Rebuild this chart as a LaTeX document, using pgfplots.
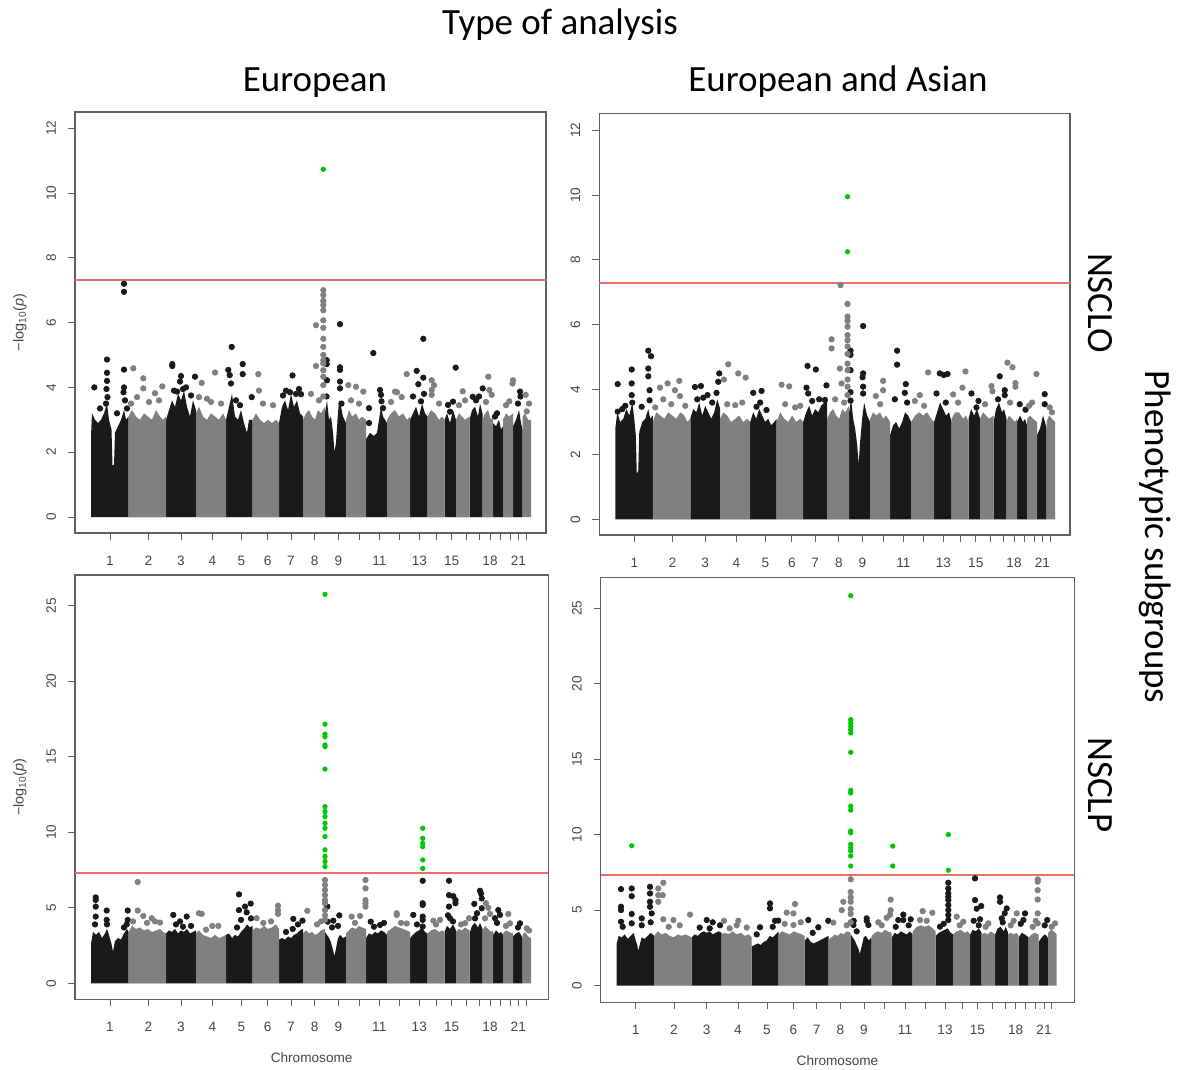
\documentclass[border=0pt]{standalone}
\usepackage{fontspec}
\setmainfont{Liberation Sans}
\newfontfamily\titlefont{Carlito}
\usepackage{pgfplots}
\pgfplotsset{compat=1.18}

\definecolor{blk}{RGB}{26,26,26}
\definecolor{gry}{RGB}{128,128,128}
\definecolor{grn}{RGB}{0,200,0}
\definecolor{redl}{RGB}{232,112,112}
\definecolor{axc}{RGB}{95,95,95}
\definecolor{labc}{RGB}{70,70,70}

\newcommand\tickfont{\fontsize{6.8}{8}\selectfont}
\newcommand\ttl{\titlefont\fontsize{18.5}{20}\selectfont}

\pgfplotsset{
  manh/.style={
    scale only axis,
    xmin=-16, xmax=455,
    axis line style={draw=axc, line width=0.55pt},
    tick style={draw=axc, line width=0.5pt},
    tick align=outside, major tick length=3.5pt,
    tick pos=left,
    xtick={19,57.3,90,121.3,150.3,176.7,200,223.7,247.3,268,288.3,308.3,328.3,345.7,360.7,375.7,388.3,399,409,419,427.3,435},
    xticklabels={1,2,3,4,5,6,7,8,9,,11,,13,,15,,,18,,,21,},
    ticklabel style={font=\tickfont, text=labc},
    /pgf/number format/assume math mode=true,
    xticklabel style={yshift=-4.5pt},
    yticklabel style={rotate=90, anchor=south, yshift=2.5pt},
    every axis y label/.style={at={([xshift=-27.5pt]axis description cs:0,0.5)}, rotate=90, anchor=center, font=\fontsize{7.2}{8}\selectfont, text=labc},
    every axis x label/.style={at={([yshift=-29pt]axis description cs:0.5,0)}, anchor=center, font=\tickfont, text=labc},
  },
  massB/.style={fill=blk, draw=none},
  massG/.style={fill=gry, draw=none},
  ptB/.style={only marks, mark=*, mark size=1.35pt, color=blk},
  ptG/.style={only marks, mark=*, mark size=1.35pt, color=gry},
  ptN/.style={only marks, mark=*, mark size=1.1pt, color=grn},
  thr/.style={redl, line width=1pt},
}

\begin{document}
\begin{tikzpicture}
\path[use as bounding box] (0,0) rectangle (591.5pt,-535pt);

% ---------- NSCLO, European ----------
\begin{axis}[manh, at={(37.5pt,-266.5pt)}, anchor=south west,
  width=235.5pt, height=210.5pt,
  ymin=-0.494, ymax=12.5, ytick={0,2,...,12},
  ylabel={−log\textsubscript{10}(\textit{p})}]
\addplot[massB] coordinates {
(0,0)(0,2.5)(1,3.2)(4,3.0)(7,2.9)(10,3.0)(13,3.2)(16,3.5)(18,3.0)(20.5,2.7)(21.5,1.6)(23,1.6)(24,2.6)(27,2.8)(30,3.0)(33,3.3)(35,3.0)(37.5,3.1)(37.5,0)
(75,0)(75,3.0)(78,3.3)(81,3.6)(84,3.4)(87,3.8)(90,3.6)(93,3.9)(96,3.4)(99,3.1)(102,3.6)(105,3.3)(105,0)
(135,0)(135,3.0)(138,3.4)(141,3.8)(144,3.1)(147,3.0)(150,3.3)(153,2.9)(156,2.6)(158,3.0)(161.5,3.0)(161.5,0)
(188,0)(188,2.9)(191,3.4)(194,3.6)(197,3.3)(200,3.8)(203,3.4)(206,3.6)(209,3.2)(212,3.1)(212,0)
(234,0)(234,3.2)(236,3.6)(238,3.0)(240,3.1)(242,2.6)(243.5,2.0)(245,2.3)(246.5,3.0)(248,3.6)(250,3.4)(252,3.1)(255,2.9)(255,0)
(275,0)(275,2.4)(279,2.6)(283,2.5)(286,2.6)(288,3.0)(290,3.4)(292,3.1)(294,3.0)(296,2.9)(296,0)
(319,0)(319,3.0)(322,3.2)(325,3.4)(328,3.1)(331,3.5)(334,3.2)(336.5,3.1)(336.5,0)
(353.5,0)(353.5,3.0)(356,3.2)(359,2.9)(362,3.3)(365,3.0)(365,0)
(378.5,0)(378.5,3.0)(381,3.3)(384,3.4)(387,3.1)(389,3.5)(391.5,3.2)(391.5,0)
(402,0)(402,2.9)(405,2.8)(408,3.0)(410,2.7)(412,2.8)(412,0)
(422,0)(422,2.8)(425,3.0)(428,3.3)(430,2.9)(431.5,2.7)(431.5,0)};
\addplot[massG] coordinates {
(37.5,0)(37.5,3.1)(41,3.3)(45,3.1)(49,3.0)(53,3.2)(57,3.1)(61,3.0)(65,3.3)(69,3.1)(72,3.0)(75,3.1)(75,0)
(105,0)(105,3.2)(108,3.4)(112,3.1)(116,3.0)(120,3.2)(124,3.1)(128,3.0)(132,3.2)(135,3.0)(135,0)
(161.5,0)(161.5,3.0)(165,3.2)(169,3.0)(173,2.9)(177,3.0)(181,2.9)(185,3.0)(188,2.9)(188,0)
(212,0)(212,3.0)(215,3.2)(218,3.3)(221,3.1)(224,3.0)(227,3.3)(230,3.2)(234,3.4)(234,0)
(255,0)(255,3.0)(258,3.3)(261,3.1)(265,3.2)(268,3.0)(271,3.1)(275,3.0)(275,0)
(296,0)(296,3.0)(300,3.2)(304,3.3)(308,3.1)(312,3.2)(316,3.0)(319,3.1)(319,0)
(336.5,0)(336.5,3.1)(340,3.3)(344,3.2)(348,3.0)(351,3.1)(353.5,3.0)(353.5,0)
(365,0)(365,3.0)(368,3.2)(371,3.1)(374,3.0)(378.5,3.1)(378.5,0)
(391.5,0)(391.5,3.0)(394,3.2)(397,3.3)(400,3.0)(402,3.1)(402,0)
(412,0)(412,3.0)(415,3.2)(418,3.1)(422,3.2)(422,0)
(431.5,0)(431.5,3.1)(434,3.2)(437,3.0)(440,3.0)(440,0)};
\addplot[ptB] coordinates {
(3.3,4.0)(16,4.86)(16,4.45)(16,4.2)(15.5,3.95)(16.5,3.7)(15,3.5)(33,7.2)(33,6.95)(33,4.55)(33,4.0)(32.5,3.85)(34,3.6)(36,3.35)(9,3.35)(26,3.2)
(81.3,4.72)(81.3,4.66)(90,4.35)(89,4.18)(86,3.87)(104,4.33)(95,4.0)(92,3.95)(83,3.9)(100,3.75)
(140.7,5.25)(137.3,4.54)(138.7,4.38)(140,4.12)(151.7,4.72)(151.7,4.41)(160.7,3.7)(145,3.6)(149,3.45)
(201.5,4.37)(195,3.9)(199,3.85)(205,3.8)(210,3.79)(208,3.95)(192,3.75)
(235.7,4.84)(235.7,4.72)(236,4.22)(235.5,3.72)(249,5.95)(249,4.62)(249,4.54)(249,4.18)(249,3.97)(250.5,3.5)(244,1.24)
(282.3,5.06)(289,3.92)(290,3.77)(290.5,3.57)(292,3.36)(278,3.36)(278,2.9)
(332.3,5.5)(325.7,4.51)(332.3,4.3)(327.3,4.1)(322,3.72)(330,3.57)(333,3.8)
(364.7,4.61)(362,3.56)(357,3.46)(359,3.25)
(381.7,3.71)(385,3.6)(388,3.72)(391.7,3.97)
(406,3.2)(404,3.1)
(429,3.87)(429.5,3.72)(427,3.5)};
\addplot[ptG] coordinates {
(42.3,4.59)(52.3,4.28)(52.3,3.97)(64,3.82)(71.3,4.03)(46,3.7)(58,3.55)(68,3.6)(40,3.5)
(110.7,4.14)(124,4.46)(116,3.65)(120,3.55)(130,3.5)(108,3.7)
(167.3,4.41)(168,3.9)(172,3.5)(182,3.45)
(232.3,7.0)(232.3,6.85)(232.3,6.67)(232.3,6.54)(232.3,6.38)(232.3,6.07)(232.3,5.84)(232.3,5.5)(232.3,5.25)(232.3,5.0)(232.3,4.84)(232.3,4.74)(232.3,4.53)(232.3,4.33)(232.3,4.07)(232.3,3.72)(225,5.92)(225,4.66)(220,3.8)(228,3.6)
(257.3,4.07)(265,4.02)(272.3,3.87)(260,3.6)(268,3.5)
(304,3.87)(306,3.85)(315.7,4.41)(310.7,3.7)(300,3.55)
(340.7,4.22)(343,4.07)(340.7,3.92)(340.7,3.77)(348,3.5)
(371.7,3.88)(374,3.6)(368,3.45)
(397.3,4.33)(398.3,3.92)(400.7,3.77)(395,3.55)
(422,4.22)(421.5,4.12)(418.3,3.57)(415,3.45)
(434.7,3.77)(435.7,3.26)(438,3.5)};
\addplot[thr] coordinates {(-16,7.3)(460,7.3)};
\addplot[ptN] coordinates {(232.3,10.73)};
\end{axis}

% ---------- NSCLO, European and Asian ----------
\begin{axis}[manh, at={(299.65pt,-267.5pt)}, anchor=south west,
  width=235.35pt, height=210.85pt,
  ymin=-0.484, ymax=12.52, ytick={0,2,...,12}]
\addplot[massB] coordinates {
(0,0)(0,2.8)(2,3.3)(5,3.0)(8,3.1)(11,3.4)(14,3.2)(17,3.6)(19,3.1)(20.5,2.6)(21.5,1.4)(23,1.5)(24,2.7)(27,3.0)(30,3.1)(33,3.4)(35,3.1)(37.5,3.2)(37.5,0)
(75,0)(75,3.1)(78,3.4)(81,3.3)(84,3.6)(87,3.2)(90,3.5)(93,3.3)(96,3.1)(99,3.3)(102,3.7)(105,3.4)(105,0)
(135,0)(135,3.0)(138,3.3)(141,3.1)(144,3.4)(147,3.2)(150,3.0)(153,3.1)(156,2.9)(159,3.0)(161.5,3.1)(161.5,0)
(188,0)(188,3.0)(191,3.3)(194,3.5)(197,3.2)(200,3.4)(203,3.3)(206,3.5)(209,3.6)(212,3.8)(212,0)
(234,0)(234,3.3)(236,3.7)(238,3.1)(240,2.8)(242,2.3)(243.5,1.7)(245,2.4)(247,3.1)(249,3.6)(252,3.2)(255,3.0)(255,0)
(275,0)(275,2.6)(278,2.9)(281,3.0)(284,2.8)(287,3.0)(290,3.3)(293,3.2)(296,3.0)(296,0)
(319,0)(319,3.0)(322,3.3)(325,3.6)(328,3.4)(331,3.2)(334,3.3)(336.5,3.0)(336.5,0)
(353.5,0)(353.5,3.1)(356,3.4)(359,3.2)(362,3.4)(365,3.1)(365,0)
(378.5,0)(378.5,3.0)(381,3.4)(384,3.6)(387,3.3)(389,3.4)(391.5,3.1)(391.5,0)
(402,0)(402,3.0)(405,3.2)(408,3.0)(410,3.1)(412,2.9)(412,0)
(422,0)(422,2.6)(425,2.8)(428,3.2)(430,3.0)(431.5,2.8)(431.5,0)};
\addplot[massG] coordinates {
(37.5,0)(37.5,3.0)(41,3.3)(45,3.2)(49,3.1)(53,3.3)(57,3.2)(61,3.1)(65,3.3)(69,3.2)(72,3.0)(75,3.1)(75,0)
(105,0)(105,3.1)(108,3.3)(112,3.2)(116,3.0)(120,3.1)(124,3.2)(128,3.0)(132,3.1)(135,3.0)(135,0)
(161.5,0)(161.5,3.0)(165,3.3)(169,3.1)(173,3.0)(177,3.2)(181,3.0)(185,3.1)(188,3.0)(188,0)
(212,0)(212,3.1)(215,3.3)(218,3.4)(221,3.2)(224,3.1)(227,3.4)(230,3.3)(234,3.5)(234,0)
(255,0)(255,3.1)(258,3.3)(261,3.2)(265,3.3)(268,3.1)(271,3.2)(275,3.0)(275,0)
(296,0)(296,3.0)(300,3.2)(304,3.3)(308,3.2)(312,3.3)(316,3.1)(319,3.0)(319,0)
(336.5,0)(336.5,3.1)(340,3.3)(344,3.3)(348,3.1)(351,3.2)(353.5,3.0)(353.5,0)
(365,0)(365,3.1)(368,3.3)(371,3.2)(374,3.1)(378.5,3.2)(378.5,0)
(391.5,0)(391.5,3.0)(394,3.2)(397,3.1)(400,3.0)(402,3.1)(402,0)
(412,0)(412,3.1)(415,3.2)(418,3.1)(422,3.0)(422,0)
(431.5,0)(431.5,3.0)(434,3.2)(437,3.1)(440,3.0)(440,0)};
\addplot[ptB] coordinates {
(2.4,4.17)(2.4,3.32)(16.4,4.62)(16.4,4.19)(16.4,3.83)(17,3.6)(26.4,3.47)(33,5.2)(35.7,5.03)(33,4.65)(33,4.41)(34.3,3.98)(34.3,3.67)(10,3.5)(7,3.4)
(79.7,4.08)(85.7,4.11)(92.3,3.83)(103,4.24)(104,4.5)(101.3,3.9)(82,3.7)(88,3.75)(97,3.6)
(146.4,3.96)(138,3.9)(141.3,3.47)(151.3,3.37)(145,3.6)
(192.4,4.73)(200.7,4.62)(191.3,4.06)(193,3.88)(211.3,4.13)(209.7,3.68)(204,3.7)(197,3.65)
(235.4,5.2)(235.4,5.07)(235.4,4.6)(235.4,3.92)(235.4,3.66)(248,5.96)(248,4.5)(247.4,4.38)(248,4.09)(248,3.88)
(282,5.2)(282,4.77)(290.7,4.17)(289.7,3.9)(279.7,3.7)(292,3.6)
(324.7,4.5)(328.7,4.45)(332.4,4.48)(321.4,3.88)(330.7,3.6)
(356.4,3.88)(363.4,3.65)(361.4,3.45)
(384.7,4.41)(389.7,3.98)(389.7,3.83)(383,3.7)
(410.5,3.38)(404.7,3.55)
(429.7,3.86)(429.7,3.55)};
\addplot[ptG] coordinates {
(64,4.27)(52.3,4.19)(44.7,4.06)(59.7,3.98)(64.7,3.8)(48,3.7)(56,3.55)(40,3.45)(70,3.5)
(113,4.78)(123,4.5)(130.4,4.37)(108.7,4.31)(112,3.55)(120,3.52)(127,3.6)
(166.4,4.15)(174,4.1)(170,3.55)(180,3.45)(185,3.5)
(216.4,5.55)(216.4,5.27)(225.4,7.22)(224.7,4.65)(226.4,4.19)
(232.4,6.64)(232.4,6.25)(232.4,6.12)(232.4,5.94)(232.4,5.68)(232.4,5.52)(232.4,5.33)(232.4,5.1)(232.4,4.8)(232.4,4.6)(232.4,4.31)(232.4,4.09)(232.4,3.83)(220,3.7)(229,3.6)
(268,4.27)(268,3.98)(260.7,3.8)(265,3.55)
(313,4.53)(304.7,3.83)(299.7,3.65)(309,3.5)
(350.4,4.56)(347.4,4.06)(338,3.85)(343,3.6)
(376.4,4.11)(377.4,3.95)(370,3.55)
(392.4,4.83)(397.4,4.69)(400.4,4.2)(400.4,4.09)(395,3.6)
(421.4,4.48)(417,3.6)(414,3.5)
(434.7,3.45)(437,3.3)};
\addplot[thr] coordinates {(-16,7.3)(460,7.3)};
\addplot[ptN] coordinates {(232.4,9.95)(232.4,8.25)};
\end{axis}

% ---------- NSCLP, European ----------
\begin{axis}[manh, at={(37.5pt,-499.65pt)}, anchor=south west,
  width=236.65pt, height=212.15pt, xmax=457.3,
  ymin=-1.06, ymax=27.04, ytick={0,5,...,25},
  xlabel={Chromosome}, ylabel={−log\textsubscript{10}(\textit{p})}]
\addplot[massB] coordinates {
(0,0)(0,2.6)(2,3.4)(5,3.2)(8,3.4)(11,3.0)(14,3.3)(16,3.6)(18,3.2)(20.5,2.6)(22,2.1)(24,2.8)(27,3.0)(30,2.9)(33,3.3)(36,3.6)(37.5,3.4)(37.5,0)
(75,0)(75,3.3)(78,3.5)(81,3.4)(84,3.6)(87,3.3)(90,3.5)(93,3.4)(96,3.6)(99,3.3)(102,3.4)(105,3.5)(105,0)
(135,0)(135,3.2)(138,3.3)(141,3.0)(144,3.2)(147,3.1)(150,3.4)(153,3.6)(156,3.9)(159,3.7)(161.5,3.8)(161.5,0)
(188,0)(188,2.9)(191,3.0)(194,2.9)(197,3.1)(200,3.0)(203,3.2)(206,3.3)(209,3.5)(212,3.6)(212,0)
(234,0)(234,3.4)(236,3.2)(238,3.0)(240,2.7)(242,2.2)(243.5,1.8)(245,2.3)(247,3.0)(249,3.2)(252,3.0)(255,3.1)(255,0)
(275,0)(275,3.0)(278,3.3)(281,3.2)(284,3.4)(287,3.3)(290,3.5)(293,3.4)(296,3.2)(296,0)
(319,0)(319,3.0)(322,3.2)(325,3.4)(328,3.5)(331,3.7)(334,3.4)(336.5,3.3)(336.5,0)
(353.5,0)(353.5,3.4)(356,3.8)(359,3.6)(362,3.9)(365,3.5)(365,0)
(378.5,0)(378.5,3.3)(381,3.8)(384,4.0)(387,3.7)(389,4.0)(391.5,3.6)(391.5,0)
(402,0)(402,3.2)(405,3.5)(408,3.3)(410,3.4)(412,3.2)(412,0)
(422,0)(422,3.1)(425,3.3)(428,3.4)(430,3.2)(431.5,3.0)(431.5,0)};
\addplot[massG] coordinates {
(37.5,0)(37.5,3.4)(41,3.8)(45,3.6)(49,3.7)(53,3.5)(57,3.6)(61,3.4)(65,3.5)(69,3.6)(72,3.4)(75,3.3)(75,0)
(105,0)(105,3.3)(108,3.5)(112,3.2)(116,3.1)(120,3.0)(124,3.2)(128,3.0)(132,3.1)(135,3.2)(135,0)
(161.5,0)(161.5,3.5)(165,3.7)(169,3.6)(173,3.8)(177,3.6)(181,3.7)(185,3.9)(188,3.6)(188,0)
(212,0)(212,3.3)(215,3.5)(218,3.3)(221,3.4)(224,3.2)(227,3.3)(230,3.5)(234,3.6)(234,0)
(255,0)(255,3.3)(258,3.5)(261,3.7)(265,3.6)(268,3.8)(271,3.7)(275,3.6)(275,0)
(296,0)(296,3.4)(300,3.6)(304,3.8)(308,3.7)(312,3.6)(316,3.5)(319,3.4)(319,0)
(336.5,0)(336.5,3.3)(340,3.5)(344,3.6)(348,3.4)(351,3.5)(353.5,3.4)(353.5,0)
(365,0)(365,3.4)(368,3.6)(371,3.5)(374,3.7)(378.5,3.5)(378.5,0)
(391.5,0)(391.5,3.5)(394,3.8)(397,3.6)(400,3.4)(402,3.5)(402,0)
(412,0)(412,3.3)(415,3.5)(418,3.4)(422,3.3)(422,0)
(431.5,0)(431.5,3.2)(434,3.4)(437,3.1)(440,3.0)(440,0)};
\addplot[ptB] coordinates {
(4.7,5.69)(4.7,5.52)(4.7,5.08)(4.7,4.42)(4,3.9)(15.7,4.82)(15.7,4.2)(16,3.9)(36.7,4.82)(36.7,4.2)(35.7,3.9)(33,3.7)
(82.3,4.53)(95.7,4.42)(89,4.1)(85,3.9)(100,3.8)(92,3.75)
(148,5.89)(148,4.85)(154,5.08)(159.7,5.28)(155.7,4.7)(160,4.3)(150,4.2)(146,3.7)
(202.3,4.27)(201.7,3.6)(211.5,4.15)(207,3.9)(195,3.4)
(236.3,5.08)(236.7,4.08)(242.3,4.15)(248.3,4.5)(247,3.8)(241,3.7)
(279.7,4.08)(289,3.86)(293,4.0)(283,3.75)
(322.3,4.53)(331.7,6.79)(331.7,5.3)(331.7,5.19)(331.7,4.42)(331.7,4.2)(331.7,3.76)(326,3.9)
(358,6.79)(358,5.84)(362.3,5.77)(364.5,5.51)(364.5,5.3)(358,5.08)(359,4.31)(362,4.1)(357,4.5)
(389,6.13)(390,5.95)(390.7,5.62)(383.3,5.26)(390.7,4.97)(386,4.64)(384,4.3)
(407.3,4.85)(409,4.53)(404,4.31)(406,4.0)
(429,3.97)(427,3.7)};
\addplot[ptG] coordinates {
(46.7,6.71)(46.7,4.82)(52.3,4.46)(60.7,4.31)(69,4.02)(42,4.1)(56,4.0)(64,4.1)
(108,4.64)(110.7,4.6)(121.3,3.8)(127.3,3.8)(115,3.55)
(187,5.15)(187,4.85)(187,4.6)(165.7,4.31)(172.3,4.0)(180,4.1)
(216.3,4.8)(234,6.84)(234,6.51)(234,6.18)(234,5.84)(234,5.51)(234,5.3)(234,4.85)(234,4.5)(234,4.2)(226,3.9)(230,4.1)
(274.5,6.84)(274.5,6.29)(274.5,5.51)(274.5,5.3)(274.5,5.08)(260.7,4.42)(269,4.46)(264,4.0)
(305.7,4.64)(305.7,4.53)(315.7,3.96)(310,4.0)
(342.3,4.15)(349,4.2)(345,3.9)
(378,4.31)(374,3.98)(370,3.9)
(395,5.3)(397.3,5.0)(399,4.6)(394,4.3)
(417.3,4.59)(419,3.97)(415,3.8)
(435.7,3.64)(438,3.5)};
\addplot[thr] coordinates {(-16,7.3)(460,7.3)};
\addplot[ptN] coordinates {
(234,25.76)(234,17.16)(234,16.5)(234,16.33)(234,15.78)(234,15.67)(234,14.19)(234,11.7)(234,11.37)(234,11.04)(234,10.6)(234,10.27)(234,9.72)(234,8.84)(234,8.4)(234,8.07)(234,7.73)
(331.7,10.27)(331.7,9.6)(331.7,9.27)(331.7,9.05)(331.7,8.17)(331.7,7.61)};
\end{axis}

% ---------- NSCLP, European and Asian ----------
\begin{axis}[manh, at={(300.35pt,-501.15pt)}, anchor=south west,
  width=236.8pt, height=212.5pt, xmax=457.6,
  ymin=-1.1, ymax=27.05, ytick={0,5,...,25},
  xlabel={Chromosome}]
\addplot[massB] coordinates {
(0,0)(0,2.8)(2,3.3)(5,3.2)(8,3.4)(11,3.1)(14,3.3)(17,3.5)(19,3.0)(20.5,2.7)(21.6,2.3)(23,2.7)(25,3.2)(28,3.1)(31,3.3)(34,3.5)(37.5,3.3)(37.5,0)
(75,0)(75,3.2)(78,3.4)(81,3.3)(84,3.5)(87,3.6)(90,3.5)(93,3.6)(96,3.4)(99,3.5)(102,3.6)(105,3.5)(105,0)
(135,0)(135,2.6)(138,2.7)(141,2.8)(144,2.7)(147,2.9)(150,3.0)(153,3.3)(156,3.2)(159,3.4)(162,3.6)(162,0)
(188,0)(188,3.0)(191,3.2)(194,2.9)(197,2.8)(200,2.9)(203,3.0)(206,3.1)(209,3.2)(212,3.3)(212,0)
(234,0)(234,3.4)(236,3.2)(238,3.0)(240,2.7)(242,2.4)(243,2.1)(245,2.6)(247,3.2)(249,3.3)(252,3.0)(255,3.2)(255,0)
(275,0)(275,3.2)(278,3.5)(281,3.4)(284,3.6)(287,3.5)(290,3.4)(293,3.6)(296,3.4)(296,0)
(319,0)(319,3.3)(322,3.5)(325,3.6)(328,3.7)(331,3.8)(334,3.5)(336.5,3.4)(336.5,0)
(353.5,0)(353.5,3.4)(356,3.7)(359,3.6)(362,3.8)(365,3.5)(365,0)
(378.5,0)(378.5,3.4)(381,3.8)(384,3.9)(387,3.6)(389,3.9)(391.5,3.5)(391.5,0)
(402,0)(402,3.2)(405,3.5)(408,3.4)(410,3.3)(412,3.2)(412,0)
(422,0)(422,2.9)(425,3.2)(428,3.4)(430,3.3)(431.5,3.1)(431.5,0)};
\addplot[massG] coordinates {
(37.5,0)(37.5,3.3)(41,3.6)(45,3.4)(49,3.5)(53,3.3)(57,3.2)(61,3.4)(65,3.3)(69,3.4)(72,3.3)(75,3.2)(75,0)
(105,0)(105,3.4)(108,3.5)(112,3.4)(116,3.6)(120,3.4)(124,3.5)(128,3.3)(132,3.4)(135,3.2)(135,0)
(162,0)(162,3.4)(165,3.6)(169,3.5)(173,3.4)(177,3.6)(181,3.5)(185,3.4)(188,3.3)(188,0)
(212,0)(212,3.1)(215,3.2)(218,3.4)(221,3.3)(224,3.5)(227,3.4)(230,3.6)(234,3.5)(234,0)
(255,0)(255,3.3)(258,3.5)(261,3.6)(265,3.5)(268,3.7)(271,3.6)(275,3.5)(275,0)
(296,0)(296,3.6)(300,3.9)(304,4.0)(308,3.9)(312,4.0)(316,3.8)(319,3.6)(319,0)
(336.5,0)(336.5,3.4)(340,3.6)(344,3.7)(348,3.5)(351,3.6)(353.5,3.4)(353.5,0)
(365,0)(365,3.4)(368,3.5)(371,3.4)(374,3.6)(378.5,3.4)(378.5,0)
(391.5,0)(391.5,3.4)(394,3.5)(397,3.4)(400,3.5)(402,3.3)(402,0)
(412,0)(412,3.2)(415,3.4)(418,3.5)(422,3.4)(422,0)
(431.5,0)(431.5,3.5)(434,3.7)(437,3.6)(440,3.4)(440,0)};
\addplot[ptB] coordinates {
(4.3,6.4)(15,6.44)(15,5.93)(4.3,5.23)(4.3,5.01)(4.3,4.24)(15,4.75)(15,4.13)(25,4.46)(25,4.0)(33.3,6.55)(33.3,6.11)(33.3,5.56)(33.3,5.23)(35,4.79)(34,4.2)(6,3.9)
(90,4.35)(96,4.2)(103.3,4.0)(83,3.85)(93,3.8)
(153.3,5.45)(153.3,5.12)(158.3,4.3)(161.5,4.31)(143.3,3.87)(140,3.4)(156,3.9)
(191.6,4.35)(201.6,3.87)(211.5,4.3)(196,3.5)
(250,4.46)(250,4.3)(251.7,4.02)(236.7,4.02)(237,4.3)(240,3.6)
(286.6,4.71)(286.6,4.35)(281.6,4.35)(294,4.4)(292,4.0)(279,3.9)
(331.6,6.82)(331.6,6.44)(331.6,6.11)(331.6,5.89)(331.6,5.67)(331.6,5.34)(331.6,5.01)(331.6,4.68)(331.6,4.35)(323.3,3.91)(327,4.1)
(358.3,7.11)(358.3,5.67)(360,5.1)(364.5,5.28)(363.3,4.4)(357,4.3)(362,4.0)
(383.3,5.85)(383.3,5.56)(390,5.12)(385,4.46)(388,4.8)(386,4.2)
(408.3,4.79)(406.7,4.35)(404,4.1)
(430.5,4.35)(428,4.0)};
\addplot[ptG] coordinates {
(46.6,6.82)(41.6,6.44)(46,6.0)(41.6,6.0)(41.6,5.56)(46.6,4.4)(73.3,4.71)(56.7,4.35)(63,4.0)(52,3.9)
(121.6,4.3)(120,4.0)(107.3,4.3)(113,3.8)(130,3.85)
(178.3,5.41)(176.7,4.79)(170,4.84)(176.7,4.02)(168,4.1)(184,4.2)
(226.6,5.56)(225,5.0)(216.6,4.18)(234,7.05)(234,6.2)(234,5.85)(234,5.56)(234,5.08)(234,4.75)(234,4.2)(230,4.0)
(274,5.7)(274,5.0)(273.3,4.7)(261.6,4.2)(270,4.5)(265,4.0)
(306,4.94)(315.6,4.83)(303.3,4.35)(310,4.3)
(340,4.57)(346.6,4.24)(343,4.0)
(371.6,4.13)(369,3.9)
(400,4.79)(397,4.3)(394,4.0)
(421,7.04)(421,6.89)(421,6.33)(421,5.71)(421,4.79)(421,4.13)(419,4.3)(416,3.9)
(438.3,4.13)(435,3.9)};
\addplot[thr] coordinates {(-16,7.3)(460,7.3)};
\addplot[ptN] coordinates {
(15,9.27)
(234,25.83)(234,17.62)(234,17.4)(234,17.18)(234,16.96)(234,16.74)(234,15.46)(234,12.94)(234,12.77)(234,11.89)(234,11.63)(234,10.24)(234,10.13)(234,9.36)(234,9.14)(234,8.92)(234,8.59)(234,7.93)
(276,9.25)(276,7.93)(331.6,10.01)(331.6,7.65)};
\end{axis}

% ---------- titles ----------
\node[font=\ttl, anchor=base] at (280pt,-17.5pt) {Type of analysis};
\node[font=\ttl, anchor=base] at (157.5pt,-46pt) {European};
\node[font=\ttl, anchor=base] at (419pt,-46pt) {European and Asian};
\node[font=\ttl, rotate=-90, anchor=center] at (550pt,-151.5pt) {NSCLO};
\node[font=\ttl, rotate=-90, anchor=center] at (550pt,-392.5pt) {NSCLP};
\node[font=\ttl, rotate=-90, anchor=center] at (577.5pt,-268.5pt) {Phenotypic subgroups};
\end{tikzpicture}
\end{document}
